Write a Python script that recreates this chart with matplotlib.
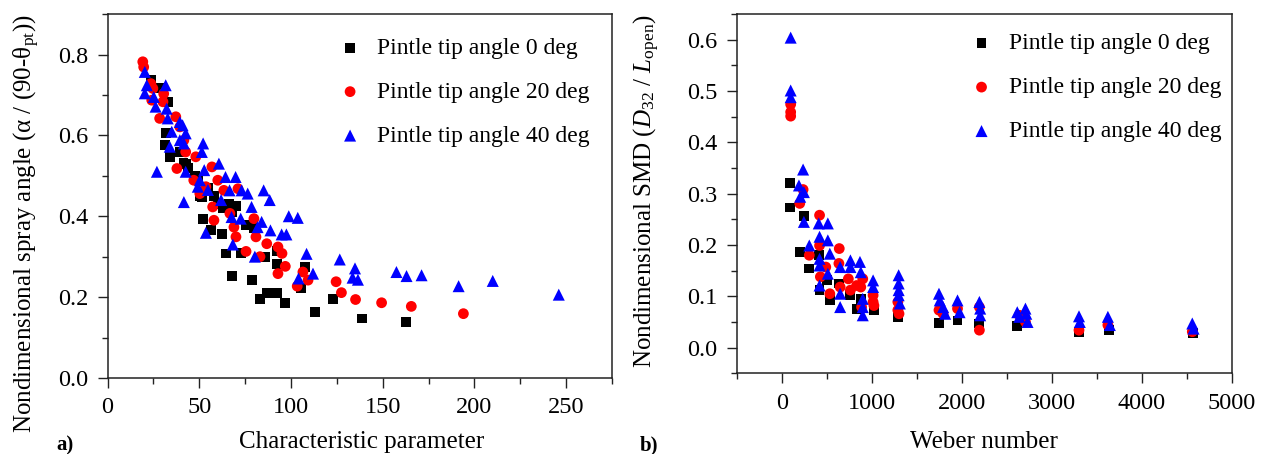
import matplotlib
matplotlib.use("Agg")
import matplotlib.pyplot as plt
from matplotlib.ticker import MultipleLocator, FormatStrFormatter

plt.rcParams['font.family'] = ['Liberation Serif', 'DejaVu Serif']
plt.rcParams['mathtext.fontset'] = 'custom'
plt.rcParams['mathtext.rm'] = 'Liberation Serif'
plt.rcParams['mathtext.it'] = 'Liberation Serif:italic'

labels = ['Pintle tip angle 0 deg', 'Pintle tip angle 20 deg', 'Pintle tip angle 40 deg']

# a) spray angle vs characteristic parameter
a0_x = [23.6, 28.4, 32.8, 31.7, 31.4, 34.1, 39.4, 41.4, 42.6, 44, 47.7, 49.2, 50.5, 51.4,
        52.1, 55, 56.2, 58, 60, 62.3, 63, 64.5, 66, 67.8, 68, 70, 72.8, 75.5, 78.7, 80,
        83.1, 86, 87.1, 92.3, 92.3, 92.5, 96.9, 105.4, 107.8, 113.1, 123.1, 138.5, 162.5]
a0_y = [0.736, 0.717, 0.683, 0.605, 0.576, 0.546, 0.559, 0.531, 0.530, 0.52, 0.50, 0.489,
        0.45, 0.448, 0.394, 0.47, 0.365, 0.45, 0.43, 0.357, 0.42, 0.308, 0.43, 0.252, 0.41,
        0.425, 0.310, 0.378, 0.243, 0.37, 0.196, 0.30, 0.211, 0.281, 0.315, 0.211, 0.186,
        0.223, 0.275, 0.163, 0.196, 0.147, 0.139]

a20_x = [19.2, 19.7, 23.6, 24.7, 24.1, 28.4, 30.2, 30.6, 37.2, 37.8, 39.4, 41.6, 42.6, 47,
         48.1, 50.3, 53.6, 56.9, 58, 57.3, 60.1, 63.4, 66.7, 68.9, 70, 71.1, 75.5, 79.8,
         80.9, 83.1, 86.8, 92.9, 92.9, 95.1, 96.9, 103.4, 106.5, 109.3, 124.6, 127.5,
         135.2, 149.4, 165.6, 194]
a20_y = [0.782, 0.769, 0.728, 0.716, 0.687, 0.642, 0.683, 0.703, 0.646, 0.518, 0.621, 0.588,
         0.559, 0.489, 0.547, 0.456, 0.473, 0.522, 0.390, 0.423, 0.489, 0.464, 0.407, 0.373,
         0.349, 0.468, 0.313, 0.394, 0.349, 0.300, 0.332, 0.324, 0.258, 0.308, 0.276, 0.227,
         0.262, 0.242, 0.238, 0.211, 0.194, 0.186, 0.177, 0.159]

a40_x = [20.3, 20.3, 21.4, 25.2, 26.2, 26.9, 31.7, 32.2, 32.8, 33.9, 35, 39.4, 39.4, 40.9,
         41.6, 42.6, 41.6, 42.6, 49.2, 50.3, 51.4, 52.1, 52.7, 53.6, 54.7, 60.7, 61.9, 64.3,
         66.5, 67.6, 68.3, 69.8, 72.6, 73.1, 76.4, 78.5, 80.3, 81.8, 84, 85.1, 88.4, 88.8,
         94.9, 97.5, 98.8, 103.7, 104.1, 108.5, 112, 126.6, 133.6, 134.9, 136.5, 157.5,
         163, 171.2, 191.4, 210, 246]
a40_y = [0.757, 0.704, 0.724, 0.695, 0.671, 0.510, 0.724, 0.666, 0.642, 0.572, 0.609, 0.633,
         0.588, 0.625, 0.580, 0.605, 0.435, 0.510, 0.473, 0.489, 0.559, 0.580, 0.514, 0.359,
         0.465, 0.530, 0.440, 0.497, 0.464, 0.398, 0.330, 0.497, 0.394, 0.464, 0.456, 0.423,
         0.300, 0.373, 0.386, 0.464, 0.440, 0.365, 0.355, 0.355, 0.400, 0.396, 0.246, 0.307,
         0.258, 0.293, 0.248, 0.271, 0.243, 0.262, 0.252, 0.254, 0.227, 0.240, 0.206]

# b) SMD vs Weber number
b0_x = [92, 92, 206, 252, 307, 412, 421, 503, 535, 636, 755, 833, 879, 1025, 1291, 1748,
        1954, 2197, 2618, 3304, 3634, 4572]
b0_y = [0.321, 0.273, 0.186, 0.256, 0.154, 0.180, 0.112, 0.131, 0.092, 0.125, 0.102, 0.076,
        0.095, 0.073, 0.060, 0.048, 0.053, 0.047, 0.042, 0.031, 0.034, 0.029]

b20_x = [100, 100, 100, 201, 238, 307, 421, 421, 430, 490, 535, 640, 636, 650, 741, 764, 833,
         879, 901, 888, 1016, 1016, 1025, 1291, 1291, 1304, 1748, 1794, 1954, 2197, 2197,
         2641, 2709, 3304, 3625, 4563]
b20_y = [0.474, 0.459, 0.451, 0.281, 0.308, 0.180, 0.258, 0.199, 0.138, 0.157, 0.105, 0.193,
         0.164, 0.118, 0.134, 0.112, 0.121, 0.118, 0.134, 0.079, 0.102, 0.089, 0.082, 0.089,
         0.073, 0.066, 0.073, 0.066, 0.076, 0.079, 0.034, 0.063, 0.050, 0.034, 0.044, 0.031]

b40_x = [100, 100, 100, 192, 206, 238, 247, 247, 307, 412, 421, 421, 421, 421, 513, 513, 535,
         513, 650, 650, 650, 764, 764, 870, 879, 901, 901, 901, 1016, 1016, 1300, 1300, 1300,
         1300, 1313, 1748, 1757, 1794, 1817, 1954, 1977, 2197, 2206, 2206, 2618, 2641, 2709,
         2718, 2732, 3304, 3313, 3625, 3647, 4563, 4577]
b40_y = [0.604, 0.501, 0.488, 0.316, 0.294, 0.347, 0.303, 0.245, 0.199, 0.242, 0.216, 0.173,
         0.160, 0.121, 0.242, 0.209, 0.183, 0.144, 0.157, 0.105, 0.079, 0.170, 0.157, 0.167,
         0.147, 0.095, 0.079, 0.063, 0.131, 0.118, 0.141, 0.125, 0.112, 0.102, 0.086, 0.105,
         0.092, 0.079, 0.066, 0.092, 0.069, 0.089, 0.076, 0.063, 0.069, 0.060, 0.076, 0.066,
         0.050, 0.061, 0.050, 0.060, 0.044, 0.047, 0.037]


def draw(ax, series):
    styles = [('s', 'black', 50), ('o', 'red', 60), ('^', 'blue', 75)]
    for (x, y), (m, c, s), lab in zip(series, styles, labels):
        ax.scatter(x, y, marker=m, c=c, s=s, edgecolors='none', label=lab)
    for sp in ax.spines.values():
        sp.set_linewidth(1.1)
        sp.set_color('#222222')
    ax.tick_params(which='both', direction='out', top=False, right=False,
                   labelsize=17.5, width=1.0, color='#222222')
    ax.tick_params(which='major', length=7, pad=7)
    ax.tick_params(which='minor', length=4)


fig = plt.figure(figsize=(12.61, 4.54), dpi=100)
ax1 = fig.add_axes([0.0853, 0.1675, 0.400, 0.8015])
ax2 = fig.add_axes([0.5842, 0.1778, 0.3925, 0.7913])

draw(ax1, [(a0_x, a0_y), (a20_x, a20_y), (a40_x, a40_y)])
ax1.set_xlim(0, 275)
ax1.set_ylim(0, 0.9)
ax1.xaxis.set_major_locator(MultipleLocator(50))
ax1.xaxis.set_minor_locator(MultipleLocator(25))
ax1.yaxis.set_major_locator(MultipleLocator(0.2))
ax1.yaxis.set_minor_locator(MultipleLocator(0.1))
ax1.yaxis.set_major_formatter(FormatStrFormatter('%.1f'))
ax1.set_xlabel('Characteristic parameter', fontsize=18)
ax1.set_ylabel('Nondimensional spray angle (α / (90-θ$_{\\mathrm{pt}}$))', fontsize=18)
ax1.xaxis.set_label_coords(0.504, -0.145)
ax1.yaxis.set_label_coords(-0.130, 0.423)
ax1.legend(loc='upper left', bbox_to_anchor=(0.434, 0.962), frameon=False, fontsize=17,
           handlelength=1.2, handletextpad=0.55, labelspacing=0.95, borderaxespad=0)

draw(ax2, [(b0_x, b0_y), (b20_x, b20_y), (b40_x, b40_y)])
ax2.set_xlim(-500, 5000)
ax2.set_ylim(-0.05, 0.65)
ax2.xaxis.set_major_locator(MultipleLocator(1000))
ax2.xaxis.set_minor_locator(MultipleLocator(500))
ax2.yaxis.set_major_locator(MultipleLocator(0.1))
ax2.yaxis.set_minor_locator(MultipleLocator(0.05))
ax2.yaxis.set_major_formatter(FormatStrFormatter('%.1f'))
ax2.set_xlabel('Weber number', fontsize=18)
ax2.set_ylabel('Nondimensional SMD ($D_{32}$ / $L_{\\mathrm{open}}$)', fontsize=18)
ax2.xaxis.set_label_coords(0.5, -0.16)
ax2.yaxis.set_label_coords(-0.150, 0.506)
ax2.legend(loc='upper left', bbox_to_anchor=(0.447, 0.974), frameon=False, fontsize=17,
           handlelength=1.2, handletextpad=0.55, labelspacing=0.95, borderaxespad=0)

fig.text(56 / 1261, 1 - 445 / 454, 'a)', fontsize=15, fontweight='bold', va='center')
fig.text(640 / 1261, 1 - 445 / 454, 'b)', fontsize=15, fontweight='bold', va='center')

fig.savefig('out.png', dpi=100)
